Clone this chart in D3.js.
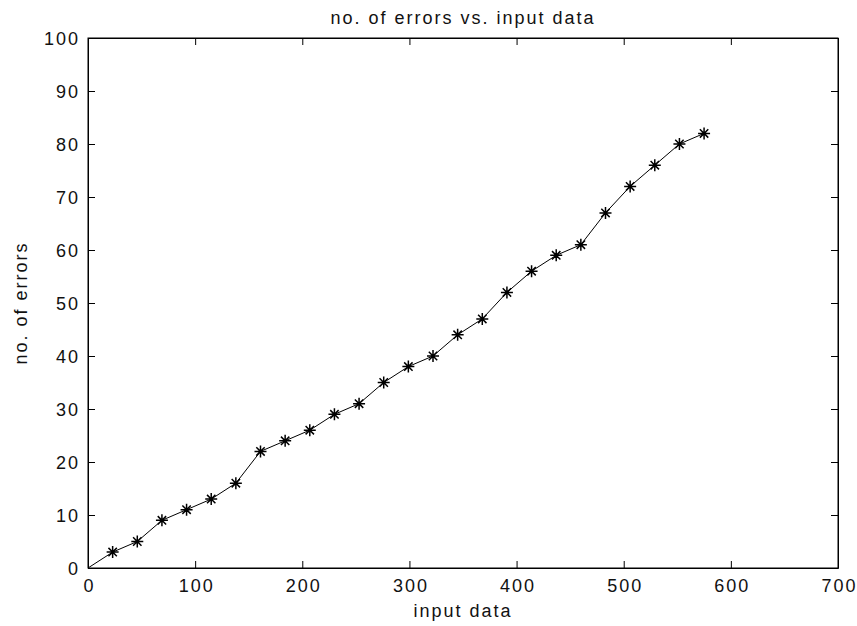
<!DOCTYPE html>
<html lang="en">
<head>
<meta charset="utf-8">
<title>no. of errors vs. input data</title>
<script src="https://d3js.org/d3.v7.min.js"></script>
<style>
  body { margin: 0; background: #fff; }
  text { font-family: "Liberation Sans", Arial, sans-serif; fill: #111; }
  .tick text { font-size: 18px; letter-spacing: 2px; }
</style>
</head>
<body>
<div id="chart"></div>
<script>
// input data sizes and the errors counted for each
var inputData = [0, 23, 46, 69, 92, 115, 138, 161, 184, 207, 230, 253, 276,
                 299, 322, 345, 368, 391, 414, 437, 460, 483, 506, 529, 552, 575];
var errorCounts = [0, 3, 5, 9, 11, 13, 16, 22, 24, 26, 29, 31, 35,
                   38, 40, 44, 47, 52, 56, 59, 61, 67, 72, 76, 80, 82];
var xTicks = [0, 100, 200, 300, 400, 500, 600, 700];
var yTicks = [0, 10, 20, 30, 40, 50, 60, 70, 80, 90, 100];

var W = 857, H = 626;
var margin = {top: 38, right: 19, bottom: 58, left: 88},
    width = W - margin.left - margin.right,
    height = H - margin.top - margin.bottom;

var x = d3.scaleLinear().domain([0, 700]).range([0, width]);
var y = d3.scaleLinear().domain([0, 100]).range([height, 0]);

var svg = d3.select("#chart").append("svg")
    .attr("width", W).attr("height", H);
var g = svg.append("g")
    .attr("transform", "translate(" + margin.left + "," + margin.top + ")");

// axes with inward ticks, box on all four sides
var xAxis = g.append("g")
    .attr("transform", "translate(0," + height + ")")
    .call(d3.axisBottom(x).tickValues(xTicks).tickSize(-7).tickPadding(0).tickSizeOuter(0));
xAxis.selectAll("text").attr("y", 24).attr("dy", null).attr("dx", "1px");

var yAxis = g.append("g")
    .call(d3.axisLeft(y).tickValues(yTicks).tickSize(-7).tickPadding(8).tickSizeOuter(0));
yAxis.selectAll("text").attr("dy", "0.36em");

g.append("g")
    .call(d3.axisTop(x).tickValues(xTicks).tickSize(-7).tickFormat("").tickSizeOuter(0));
g.append("g")
    .attr("transform", "translate(" + width + ",0)")
    .call(d3.axisRight(y).tickValues(yTicks).tickSize(-7).tickFormat("").tickSizeOuter(0));

g.selectAll(".domain").attr("stroke", "#000");
g.selectAll(".tick line").attr("stroke", "#000");

g.append("rect")
    .attr("width", width).attr("height", height)
    .attr("fill", "none").attr("stroke", "#000");

var pts = inputData.map(function(d, i) { return [d, errorCounts[i]]; });

g.append("path")
    .datum(pts)
    .attr("fill", "none")
    .attr("stroke", "#000")
    .attr("stroke-width", 1)
    .attr("d", d3.line()
        .x(function(d) { return x(d[0]); })
        .y(function(d) { return y(d[1]); }));

// '*' markers (none at the origin)
var star = "M-6,0L6,0M0,-6L0,6M-4.2,-4.2L4.2,4.2M-4.2,4.2L4.2,-4.2";
g.selectAll(".marker")
    .data(pts.slice(1))
  .enter().append("path")
    .attr("class", "marker")
    .attr("transform", function(d) { return "translate(" + x(d[0]) + "," + y(d[1]) + ")"; })
    .attr("d", star)
    .attr("fill", "none")
    .attr("stroke", "#000")
    .attr("stroke-width", 1.5);

// titles
svg.append("text")
    .attr("x", margin.left + width / 2).attr("y", 24)
    .attr("text-anchor", "middle")
    .style("font-size", "18px").style("letter-spacing", "2px")
    .text("no. of errors vs. input data");

svg.append("text")
    .attr("x", margin.left + width / 2).attr("y", 617)
    .attr("text-anchor", "middle")
    .style("font-size", "18px").style("letter-spacing", "2px")
    .text("input data");

svg.append("text")
    .attr("transform", "translate(27," + (margin.top + height / 2) + ") rotate(-90)")
    .attr("text-anchor", "middle")
    .style("font-size", "18px").style("letter-spacing", "2px")
    .text("no. of errors");
</script>
</body>
</html>
